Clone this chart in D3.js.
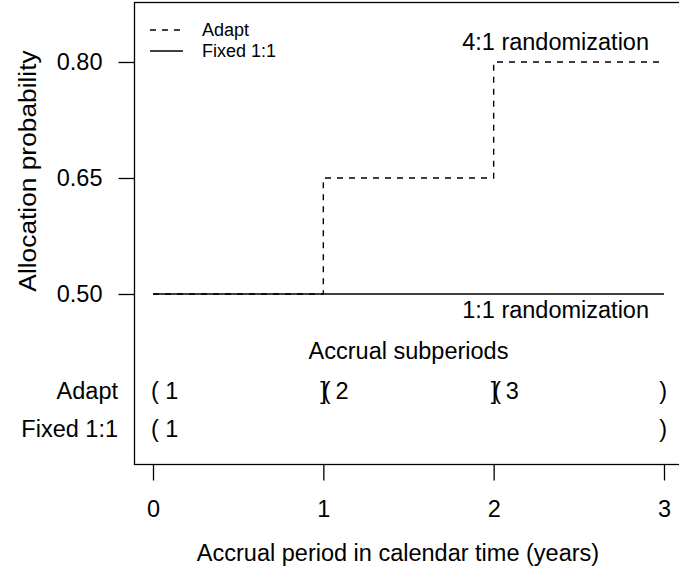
<!DOCTYPE html>
<html>
<head>
<meta charset="utf-8">
<script src="https://cdn.jsdelivr.net/npm/d3@7"></script>
<style>
  html, body { margin: 0; padding: 0; background: #fff; }
  svg text { font-family: "Liberation Sans", Arial, Helvetica, sans-serif; fill: #000; }
</style>
</head>
<body>
<svg id="chart" width="679" height="571"></svg>
<script>
// Calendar-time breakpoints of the accrual period (years)
const years = [0, 1, 2, 3];
// Allocation probability in each accrual subperiod
const adaptProb = [0.50, 0.65, 0.80];
const fixedProb = [0.50, 0.50, 0.50];
const yTicks = [0.50, 0.65, 0.80];
const yTickLabels = ["0.50", "0.65", "0.80"];
const seriesNames = ["Adapt", "Fixed 1:1"];
const subperiodLabels = ["1", "2", "3"];

const svg = d3.select("#chart");
const FS = 23.5;    // main text size
const LFS = 18;     // legend text size

const x = d3.scaleLinear().domain([0, 3]).range([153, 664]);
const y = d3.scaleLinear().domain([0.5, 0.8]).range([294, 62]);

// plot frame (extends past the right edge of the page)
const frame = { left: 134.5, top: 2.5, right: 690, bottom: 464.5 };
svg.append("rect")
  .attr("x", frame.left).attr("y", frame.top)
  .attr("width", frame.right - frame.left).attr("height", frame.bottom - frame.top)
  .attr("fill", "none").attr("stroke", "#000").attr("stroke-width", 1.3);

// step series: one value per subperiod, held until the next breakpoint
function stepPoints(vals) {
  const pts = [];
  vals.forEach((v, i) => { pts.push([years[i], v]); pts.push([years[i + 1], v]); });
  return pts;
}
const line = d3.line().x(d => x(d[0])).y(d => y(d[1]));

svg.append("path")
  .attr("d", line(stepPoints(adaptProb)))
  .attr("fill", "none").attr("stroke", "#000").attr("stroke-width", 1.4)
  .attr("stroke-dasharray", "6,6");
svg.append("path")
  .attr("d", line(stepPoints(fixedProb)))
  .attr("fill", "none").attr("stroke", "#000").attr("stroke-width", 1.4);

// y axis
const yAxis = d3.axisLeft(y).tickValues(yTicks)
  .tickFormat((d, i) => yTickLabels[i]).tickSize(16).tickPadding(16);
const gy = svg.append("g").attr("transform", `translate(${frame.left},0)`).call(yAxis);
gy.select(".domain").remove();
gy.selectAll("line").attr("stroke-width", 1.3);
gy.selectAll("text").attr("font-size", FS).style("font-family", null);

// x axis
const xAxis = d3.axisBottom(x).tickValues(years).tickFormat(d3.format("d"))
  .tickSize(16).tickPadding(20);
const gx = svg.append("g").attr("transform", `translate(0,${frame.bottom})`).call(xAxis);
gx.select(".domain").remove();
gx.selectAll("line").attr("stroke-width", 1.3);
gx.selectAll("text").attr("font-size", FS).style("font-family", null);

// axis titles
svg.append("text").attr("x", 398).attr("y", 561).attr("text-anchor", "middle")
  .attr("font-size", FS).text("Accrual period in calendar time (years)");
svg.append("text").attr("transform", "translate(36,171) rotate(-90) scale(1.12,1)")
  .attr("text-anchor", "middle").attr("font-size", FS).text("Allocation probability");

// annotations
svg.append("text").attr("x", 649).attr("y", 50).attr("text-anchor", "end")
  .attr("font-size", FS).text("4:1 randomization");
svg.append("text").attr("x", 649).attr("y", 318).attr("text-anchor", "end")
  .attr("font-size", FS).text("1:1 randomization");
svg.append("text").attr("x", x(1.5)).attr("y", 359).attr("text-anchor", "middle")
  .attr("font-size", FS).text("Accrual subperiods");

// subperiod rows
const rowY = [399, 437];
seriesNames.forEach((name, r) => {
  svg.append("text").attr("x", 118).attr("y", rowY[r]).attr("text-anchor", "end")
    .attr("font-size", FS).text(name);
});
// Adapt: three subperiods; Fixed 1:1: one subperiod
const rowBreaks = [[0, 1, 2, 3], [0, 3]];
rowBreaks.forEach((br, r) => {
  br.forEach((b, i) => {
    const inner = i > 0 && i < br.length - 1;
    if (i < br.length - 1) {
      // an inner breakpoint closes one subperiod and opens the next: "]("
      svg.append("text")
        .attr("x", inner ? x(b) - 3 : x(b) - 2).attr("y", rowY[r])
        .attr("text-anchor", "start").attr("letter-spacing", inner ? -4 : 0)
        .attr("font-size", FS).text(inner ? "](" : "(");
      svg.append("text").attr("x", x(b + 0.11)).attr("y", rowY[r]).attr("text-anchor", "middle")
        .attr("font-size", FS).text(subperiodLabels[i]);
    } else {
      svg.append("text").attr("x", x(b) + 3).attr("y", rowY[r]).attr("text-anchor", "end")
        .attr("font-size", FS).text(")");
    }
  });
});

// legend
const legend = svg.append("g");
const legendY = [30, 51];
seriesNames.forEach((name, i) => {
  legend.append("line").attr("x1", 150).attr("x2", 183)
    .attr("y1", legendY[i]).attr("y2", legendY[i])
    .attr("stroke", "#000").attr("stroke-width", 1.4)
    .attr("stroke-dasharray", i === 0 ? "6,6" : null);
  legend.append("text").attr("x", 202).attr("y", legendY[i] + 6)
    .attr("font-size", LFS).text(name);
});
</script>
</body>
</html>
